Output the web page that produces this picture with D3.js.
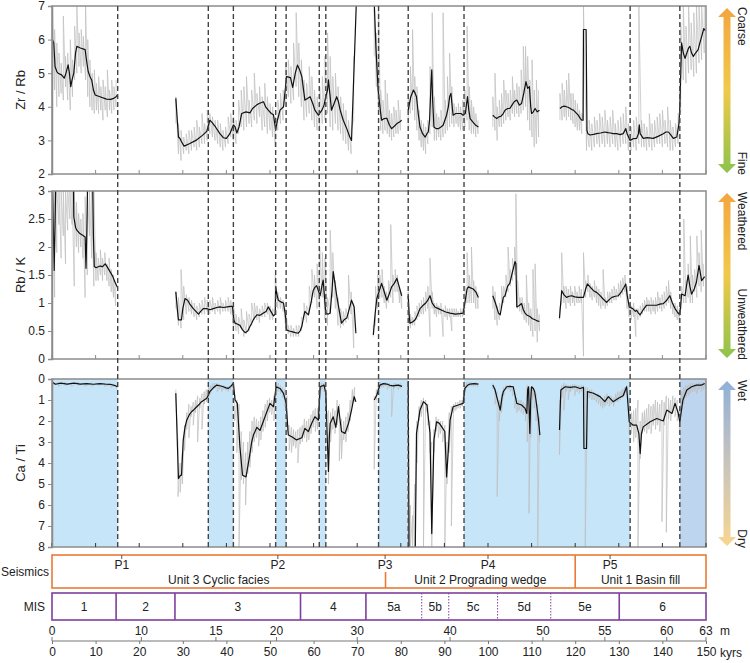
<!DOCTYPE html>
<html>
<head>
<meta charset="utf-8">
<script src="https://cdn.jsdelivr.net/npm/d3@7"></script>
<style>
  body { margin: 0; background: #fff; }
  svg text { font-family: "Liberation Sans", Arial, sans-serif; fill: #222; }
</style>
</head>
<body>
<svg id="chart" width="750" height="663"></svg>
<script>
// ---- data (kyrs, ratio) ----
// smoothed curves, one array per continuous core section
const zrRbSmooth = [
  [[0.1,6.0],[0.4,5.9],[0.7,5.2],[1.1,5.05],[1.4,5.0],[2.2,4.95],[2.8,4.85],[3.2,5.0],[3.7,5.25],[4.0,5.0],[4.3,4.6],[4.6,4.8],[5.0,5.0],[5.4,5.6],[5.7,5.8],[6.5,5.75],[7.6,5.7],[7.9,5.4],[8.3,5.05],[8.7,4.9],[9.1,4.8],[9.5,4.5],[9.9,4.35],[11.0,4.3],[12.5,4.23],[13.5,4.22],[14.1,4.25],[14.7,4.3],[15.0,4.35]],
  [[28.4,4.25],[29.0,3.1],[29.4,3.05],[29.7,2.96],[30.3,2.83],[31.5,2.9],[33,3.0],[34.5,3.15],[35.5,3.27],[36.2,3.6],[36.6,3.55],[37.5,3.4],[38.5,3.2],[39.3,3.08],[40.0,3.06],[40.8,3.2],[41.6,3.46],[42.0,3.4],[42.4,3.22],[42.9,3.4],[43.5,3.8],[44.5,3.85],[45.4,3.82],[46.0,3.95],[46.9,4.05],[47.5,4.1],[48.5,4.15],[49.0,4.0],[49.6,3.9],[50.3,3.8],[50.8,3.76],[51.3,3.31],[51.7,3.6],[52.3,3.9],[53.1,4.0],[53.8,4.9],[54.7,4.87],[55.2,4.58],[55.8,5.0],[56.3,5.24],[56.8,5.1],[57.3,4.9],[58.0,4.2],[58.6,4.25],[59.2,4.3],[59.8,4.1],[60.3,3.9],[61.1,3.75],[61.9,3.9],[62.4,4.05],[62.8,4.3],[63.2,4.5],[63.4,4.8],[63.8,4.3],[64.1,3.9],[64.7,4.1],[65.3,4.3],[65.7,4.15],[66.1,3.9],[66.8,3.6],[67.6,3.35],[68.3,3.1],[68.7,3.0],[69.8,7.1]],
  [[73.9,7.1],[74.0,6.8],[74.3,5.74],[74.8,4.5],[75.3,3.9],[75.6,3.6],[76.2,3.65],[76.8,3.66],[77.4,3.45],[77.9,3.35],[78.5,3.42],[79.1,3.5],[79.7,3.55],[80.2,3.6]],
  [[81.7,3.9],[82.3,4.3],[82.9,4.5],[83.3,4.4],[83.6,4.3],[84.0,3.8],[84.4,3.4],[85.0,3.2],[85.6,3.1],[86.0,3.2],[86.3,3.25],[86.6,3.6],[86.9,4.6],[87.1,5.1],[87.3,4.2],[87.6,3.4],[88.1,3.35],[88.6,3.35],[89.2,3.4],[89.7,3.45],[90.1,3.6],[90.5,3.75],[90.9,4.0],[91.2,4.3],[91.5,4.4],[91.8,4.0],[92.0,3.75],[92.6,3.8],[93.2,3.8],[93.8,3.8],[94.3,3.75],[94.8,3.8],[95.1,4.1],[95.3,4.3],[95.6,3.9],[95.9,3.65],[96.5,3.55],[97.2,3.45],[97.8,3.4]],
  [[101.1,3.75],[101.5,3.7],[102.0,3.65],[102.5,3.7],[103.0,3.72],[103.5,3.8],[103.9,3.9],[104.5,3.95],[105.0,3.95],[105.5,4.05],[106.0,4.15],[106.6,4.2],[107.2,4.05],[107.7,4.1],[108.2,4.4],[108.7,4.75],[109.1,4.55],[109.5,4.6],[109.8,4.0],[110.0,3.8],[110.4,3.85],[110.8,3.95],[111.3,3.85],[111.8,3.9]],
  [[116.5,3.95],[117.0,4.0],[117.5,4.02],[118.0,4.0],[118.6,3.97],[119.2,3.92],[119.6,3.9],[120.2,3.82],[120.7,3.75],[121.2,3.65],[121.5,3.6],[121.8,3.6],[121.9,6.3],[122.5,6.3],[122.7,3.3],[122.9,3.2],[123.4,3.16],[124.2,3.18],[124.9,3.2],[125.8,3.22],[126.8,3.25],[127.5,3.23],[128.1,3.22],[128.7,3.2],[129.5,3.2],[130.3,3.17],[131.0,3.2],[131.6,3.35],[131.9,3.2],[132.6,3.0],[133.3,3.05],[134.1,3.06],[134.5,3.2],[134.7,3.46],[134.9,3.2],[135.6,3.06],[136.5,3.08],[137.9,3.06],[139.0,3.12],[140.2,3.2],[140.8,3.25],[141.4,3.25],[142.0,3.15],[142.5,3.06],[143.3,3.1],[143.8,3.5],[144.0,4.0],[144.4,5.9],[144.8,5.6],[145.2,5.44],[145.6,5.6],[146.0,5.75],[146.3,5.8],[146.7,5.6],[147.1,5.5],[147.6,5.6],[148.2,5.7],[148.6,5.9],[149.0,6.09],[149.5,6.33],[149.9,6.26]]
];
// raw scans: [kyrs, low, high]
const zrRbRaw = [
  [[0.1,4.3,7.0],[0.6,4.5,6.3],[1.1,4.0,5.9],[1.6,4.3,5.6],[2.1,4.4,5.3],[2.6,4.2,6.7],[3.1,4.6,5.5],[3.6,4.2,5.6],[4.2,3.9,6.0],[4.7,4.3,5.4],[5.2,4.8,6.4],[5.7,5.0,7.0],[6.2,5.2,6.2],[6.7,5.0,6.3],[7.2,5.2,6.1],[7.7,4.8,7.0],[8.2,4.3,6.0],[8.7,4.0,5.4],[9.2,3.9,5.0],[9.7,3.8,5.1],[10.2,3.9,4.7],[10.7,3.8,4.9],[11.2,3.9,4.6],[11.7,3.6,4.8],[12.2,3.9,4.6],[12.7,3.7,5.1],[13.2,3.9,4.5],[13.7,3.8,4.8],[14.2,3.9,4.6],[14.7,4.0,4.8]],
  [[28.4,3.5,4.3],[29.0,2.6,3.5],[29.6,2.4,3.3],[30.2,2.6,3.1],[30.8,2.7,3.2],[31.4,2.6,3.3],[32.0,2.7,3.3],[32.6,2.8,3.4],[33.2,2.7,3.6],[33.8,2.8,3.4],[34.4,2.9,3.8],[35.0,2.9,3.5],[35.6,3.0,3.9],[36.2,3.2,3.8],[36.8,3.1,3.7],[37.4,3.0,3.6],[38.0,2.9,3.6],[38.6,2.8,3.5],[39.2,2.7,3.3],[39.8,2.8,3.4],[40.4,2.9,3.7],[41.0,3.1,3.8],[41.6,3.0,3.7],[42.2,2.9,3.6],[42.8,3.2,4.2],[43.4,3.4,4.5],[44.0,3.3,4.6],[44.6,3.4,4.9],[45.2,3.5,4.2],[45.8,3.4,4.5],[46.4,3.6,5.0],[47.0,3.5,4.4],[47.6,3.7,4.6],[48.2,3.3,4.3],[48.8,3.4,4.7],[49.4,3.2,4.3],[50.0,3.3,4.1],[50.6,3.1,4.0],[51.2,2.8,3.7],[51.8,3.3,4.2],[52.4,3.5,4.4],[53.0,3.6,4.5],[53.6,4.0,5.3],[54.2,4.3,5.4],[54.8,4.1,5.2],[55.4,4.2,5.9],[56.0,4.6,6.8],[56.6,4.3,5.9],[57.2,4.0,5.4],[57.8,3.6,4.8],[58.4,3.7,4.7],[59.0,3.8,5.2],[59.6,3.6,4.9],[60.2,3.4,4.5],[60.8,3.3,4.3],[61.4,3.3,4.6],[62.0,3.5,4.9],[62.6,3.6,5.5],[63.2,3.8,6.2],[63.8,3.4,5.5],[64.4,3.3,4.9],[65.0,3.5,5.0],[65.6,3.3,4.6],[66.2,3.2,4.3],[66.8,3.0,4.1],[67.4,2.9,3.9],[68.0,2.7,3.6],[68.6,2.6,3.3],[69.2,3.6,5.5]],
  [[73.9,5.5,6.9],[74.4,4.6,6.2],[74.9,3.8,6.9],[75.4,3.3,4.5],[75.9,3.2,4.2],[76.4,3.3,4.8],[76.9,3.2,4.4],[77.4,3.1,3.9],[77.9,3.0,3.8],[78.4,3.1,4.0],[78.9,3.2,3.9],[79.4,3.2,4.2],[79.9,3.3,3.9]],
  [[81.7,3.4,4.4],[82.2,3.8,5.2],[82.7,3.9,6.3],[83.2,3.6,4.9],[83.7,3.3,4.6],[84.2,3.0,3.9],[84.7,2.8,3.6],[85.2,2.7,3.5],[85.7,2.6,3.4],[86.2,2.9,3.6],[86.7,3.2,5.2],[87.2,3.4,6.8],[87.7,3.0,4.3],[88.2,3.0,3.8],[88.7,3.1,3.7],[89.2,3.0,3.9],[89.7,3.1,6.8],[90.2,3.2,4.2],[90.7,3.3,4.9],[91.2,3.4,5.6],[91.7,3.5,4.6],[92.2,3.4,4.1],[92.7,3.5,4.0],[93.2,3.4,4.1],[93.7,3.3,4.0],[94.2,3.3,4.2],[94.7,3.4,4.5],[95.2,3.6,6.4],[95.7,3.3,4.6],[96.2,3.2,4.2],[96.7,3.2,4.0],[97.2,3.1,3.8],[97.7,3.2,3.6]],
  [[101.1,3.4,4.3],[101.6,3.3,5.0],[102.1,3.0,4.0],[102.6,3.4,4.2],[103.1,3.4,4.4],[103.6,3.5,4.8],[104.1,3.6,4.5],[104.6,3.7,4.4],[105.1,3.6,4.5],[105.6,3.8,4.9],[106.1,3.7,4.5],[106.6,3.8,4.7],[107.1,3.7,4.6],[107.6,3.8,5.1],[108.1,3.9,5.8],[108.6,4.0,5.8],[109.1,3.6,5.5],[109.6,3.3,4.8],[110.1,3.1,5.4],[110.6,2.8,4.5],[111.1,2.9,4.8],[111.6,3.1,4.5]],
  [[116.5,3.6,4.4],[117.0,3.6,4.7],[117.5,3.7,4.5],[118.0,3.6,4.8],[118.5,3.7,5.0],[119.0,3.6,4.4],[119.5,3.5,4.4],[120.0,3.4,4.2],[120.5,3.3,4.1],[121.0,3.3,3.9],[121.5,3.2,3.8],[121.9,3.6,7.0],[122.6,2.7,3.4],[123.2,2.8,3.6],[123.8,2.7,3.5],[124.4,2.8,3.7],[125.0,2.9,3.6],[125.6,2.8,3.8],[126.2,2.9,3.7],[126.8,2.8,3.9],[127.4,2.9,3.6],[128.0,2.8,3.7],[128.6,2.9,3.9],[129.2,2.8,3.5],[129.8,2.7,3.6],[130.4,2.8,3.7],[131.0,2.9,3.8],[131.6,2.9,4.0],[132.2,2.7,3.5],[132.8,2.7,3.4],[133.4,2.8,3.6],[134.0,2.7,3.7],[134.6,2.9,7.0],[135.2,2.8,3.6],[135.8,2.8,3.5],[136.4,2.7,3.4],[137.0,2.8,3.8],[137.6,2.7,3.5],[138.2,2.8,3.6],[138.8,2.9,3.7],[139.4,2.9,3.8],[140.0,2.8,3.9],[140.6,2.9,3.6],[141.2,2.8,4.0],[141.8,2.7,3.6],[142.4,2.7,3.4],[143.0,2.8,3.5],[143.6,2.9,3.8],[144.2,3.8,6.5],[144.8,4.8,7.0],[145.4,4.7,6.4],[146.0,5.0,7.0],[146.6,5.1,6.5],[147.2,4.9,6.8],[147.8,5.0,7.0],[148.4,5.3,7.0],[149.0,5.4,7.0],[149.6,5.6,7.0]]
];

const rbKSmooth = [
  [[0.1,3.3],[0.3,2.4],[0.5,1.58],[0.7,2.4],[0.9,3.3],[4.9,3.3],[5.0,2.54],[5.4,2.35],[5.7,2.3],[6.4,2.24],[7.2,2.2],[7.6,2.18],[7.8,1.62],[8.0,2.3],[8.2,3.3],[9.3,3.3],[9.5,2.2],[9.7,1.65],[10.1,1.63],[11.0,1.66],[11.6,1.65],[12.2,1.7],[12.7,1.64],[13.3,1.56],[13.9,1.48],[14.4,1.38],[15.0,1.28]],
  [[28.4,1.2],[28.8,0.85],[29.0,0.7],[29.7,0.7],[30.0,0.9],[30.5,1.08],[31.1,1.05],[31.7,0.97],[32.4,0.9],[33.0,0.85],[33.6,0.8],[34.1,0.85],[34.7,0.9],[35.5,0.9],[36.2,0.88],[37.0,0.9],[37.8,0.92],[38.5,0.93],[39.3,0.92],[40.2,0.93],[41.0,0.94],[41.4,0.94],[41.7,0.7],[42.0,0.64],[42.6,0.62],[43.1,0.6],[43.7,0.52],[44.3,0.47],[44.9,0.5],[45.4,0.58],[45.8,0.64],[46.3,0.72],[47.0,0.79],[47.7,0.78],[48.5,0.82],[49.1,0.85],[49.6,0.93],[50.2,0.85],[50.8,0.77],[51.2,0.8],[51.3,1.29],[51.6,1.15],[51.9,1.05],[52.5,1.02],[53.1,1.0],[53.5,0.8],[53.8,0.52],[54.4,0.5],[55.0,0.49],[55.8,0.47],[56.5,0.46],[56.9,0.5],[57.3,0.58],[57.7,0.75],[58.0,0.85],[58.4,0.82],[58.8,0.79],[59.4,1.0],[59.9,1.22],[60.3,1.28],[60.7,1.31],[61.1,1.22],[61.5,1.13],[61.9,1.3],[62.2,1.41],[62.5,1.1],[62.8,0.82],[63.3,0.8],[63.8,0.82],[64.2,1.2],[64.5,1.56],[64.9,1.35],[65.3,1.13],[65.8,0.9],[66.4,0.64],[67.0,0.7],[67.6,0.73],[68.2,0.9],[68.7,1.05],[69.3,0.93],[69.7,0.46]],
  [[73.7,0.43],[74.1,0.8],[74.5,1.08],[75.0,1.2],[75.6,1.35],[76.2,1.2],[76.8,1.05],[77.3,1.15],[77.9,1.29],[78.5,1.35],[79.1,1.44],[79.6,1.3],[80.2,1.13]],
  [[81.7,1.13],[81.9,0.8],[82.1,0.64],[82.7,0.66],[83.3,0.7],[83.8,0.78],[84.4,0.9],[85.0,0.95],[85.6,0.99],[86.2,1.05],[86.7,1.13],[87.2,1.0],[87.8,0.93],[88.6,0.9],[89.4,0.87],[90.3,0.84],[91.3,0.82],[92.5,0.8],[93.5,0.81],[94.3,0.82],[94.8,1.05],[95.2,1.25],[95.5,1.29],[96.0,1.27],[96.6,1.25],[97.2,1.2],[97.8,1.1]],
  [[101.1,1.13],[101.7,1.0],[102.4,0.82],[102.8,0.79],[103.5,1.1],[103.9,1.13],[104.5,1.3],[105.0,1.35],[105.6,1.55],[106.2,1.74],[106.4,1.7],[106.6,0.93],[107.1,0.95],[107.7,0.99],[108.1,0.88],[108.5,0.82],[109.0,0.78],[109.6,0.76],[110.2,0.72],[110.8,0.7],[111.3,0.68],[111.8,0.67]],
  [[116.4,0.73],[116.9,1.22],[117.4,1.15],[118.0,1.1],[118.6,1.12],[119.2,1.13],[119.9,1.11],[120.7,1.1],[121.3,1.1],[121.9,1.1],[122.4,1.25],[122.8,1.34],[123.5,1.28],[124.2,1.22],[124.9,1.19],[125.6,1.14],[126.3,1.08],[127.2,1.01],[127.8,1.06],[128.4,1.1],[129.2,1.12],[129.9,1.13],[130.6,1.2],[131.2,1.28],[131.6,1.34],[131.9,1.15],[132.4,0.93],[133.2,0.9],[133.8,0.85],[134.1,0.87],[134.5,0.82],[134.9,0.79],[135.6,0.88],[136.4,0.96],[137.5,0.96],[138.7,0.96],[139.4,0.98],[140.2,0.99],[141.0,1.05],[141.7,1.13],[142.3,1.0],[142.9,0.9],[143.5,0.83],[144.0,0.79],[144.4,1.16],[145.2,1.13],[145.9,1.5],[146.3,1.3],[146.7,1.16],[147.3,1.25],[147.8,1.37],[148.4,1.67],[149.0,1.4],[149.7,1.47]]
];
const rbKRaw = [
  [[0.1,1.2,3.0],[0.6,1.1,3.0],[1.1,1.9,3.0],[1.6,2.4,3.0],[2.1,1.8,3.0],[2.6,2.2,3.0],[3.1,1.7,3.0],[3.6,2.3,3.0],[4.1,2.5,3.0],[4.6,2.4,3.0],[5.1,1.3,3.0],[5.6,2.0,2.8],[6.1,1.9,2.6],[6.6,2.0,2.5],[7.1,1.8,2.6],[7.6,1.1,2.9],[8.1,1.5,3.0],[8.6,2.2,3.0],[9.1,1.8,3.0],[9.6,1.3,3.0],[10.1,1.4,1.9],[10.6,1.4,1.8],[11.1,1.5,1.95],[11.6,1.4,1.8],[12.1,1.5,1.9],[12.6,1.4,1.7],[13.1,1.3,1.8],[13.6,1.2,1.6],[14.1,1.1,1.5],[14.6,0.95,1.4]],
  [[28.4,0.9,1.2],[29.0,0.6,1.1],[29.6,0.55,1.6],[30.2,0.7,1.3],[30.8,0.8,1.15],[31.4,0.85,1.1],[32.0,0.8,1.05],[32.6,0.75,1.0],[33.2,0.7,0.95],[33.8,0.75,1.0],[34.4,0.8,1.05],[35.0,0.8,1.1],[35.6,0.85,1.05],[36.2,0.8,1.05],[36.8,0.85,1.1],[37.4,0.8,1.0],[38.0,0.85,1.05],[38.6,0.8,1.1],[39.2,0.85,1.0],[39.8,0.85,1.05],[40.4,0.85,1.1],[41.0,0.8,1.05],[41.6,0.6,1.0],[42.2,0.5,0.8],[42.8,0.45,0.75],[43.4,0.55,0.9],[44.0,0.4,0.7],[44.6,0.45,0.85],[45.2,0.5,0.8],[45.8,0.6,1.0],[46.4,0.7,1.0],[47.0,0.7,0.95],[47.6,0.65,0.9],[48.2,0.75,0.95],[48.8,0.75,1.0],[49.4,0.8,1.0],[50.0,0.7,0.95],[50.6,0.7,0.9],[51.2,0.8,1.5],[51.8,0.9,1.2],[52.4,0.9,1.1],[53.0,0.85,1.05],[53.6,0.55,0.9],[54.2,0.45,0.6],[54.8,0.4,0.6],[55.4,0.4,0.55],[56.0,0.4,0.6],[56.6,0.4,0.6],[57.2,0.5,0.75],[57.8,0.7,1.0],[58.4,0.65,0.95],[59.0,0.8,1.3],[59.6,1.0,1.6],[60.2,1.1,1.5],[60.8,0.9,1.7],[61.4,0.9,2.0],[62.0,1.1,1.9],[62.6,0.7,1.8],[63.2,0.6,1.1],[63.8,0.8,2.3],[64.4,1.1,1.9],[65.0,0.9,1.4],[65.6,0.6,1.1],[66.2,0.55,0.9],[66.8,0.6,0.85],[67.4,0.65,0.9],[68.0,0.7,1.5],[68.6,0.8,1.2],[69.2,0.2,1.0]],
  [[73.7,0.4,0.6],[74.2,0.6,1.3],[74.7,0.9,1.5],[75.2,1.1,1.5],[75.7,1.1,1.6],[76.2,1.0,1.3],[76.7,0.9,1.2],[77.2,1.0,1.4],[77.7,1.1,2.4],[78.2,1.0,1.5],[78.7,1.2,1.6],[79.2,1.2,1.5],[79.7,1.0,1.3],[80.2,0.9,1.2]],
  [[81.7,0.6,1.2],[82.2,0.55,0.8],[82.7,0.6,0.75],[83.2,0.6,0.85],[83.7,0.7,0.95],[84.2,0.75,1.0],[84.7,0.8,1.05],[85.2,0.8,1.1],[85.7,0.85,1.2],[86.2,0.9,1.3],[86.7,0.4,1.8],[87.2,0.9,1.2],[87.7,0.8,1.0],[88.2,0.75,1.0],[88.7,0.8,0.95],[89.2,0.8,1.0],[89.7,0.4,0.9],[90.2,0.75,0.95],[90.7,0.7,0.9],[91.2,0.75,0.9],[91.7,0.5,0.9],[92.2,0.75,0.9],[92.7,0.75,0.9],[93.2,0.75,0.85],[93.7,0.75,0.9],[94.2,0.75,0.9],[94.7,0.9,1.3],[95.2,1.0,1.9],[95.7,1.0,1.5],[96.2,1.0,2.0],[96.7,1.0,1.4],[97.2,0.9,1.3],[97.7,0.9,1.2]],
  [[101.1,0.9,1.3],[101.6,0.7,1.2],[102.1,0.6,0.95],[102.6,0.7,1.0],[103.1,0.9,1.3],[103.6,1.0,1.3],[104.1,1.1,1.5],[104.6,1.2,2.0],[105.1,1.3,1.6],[105.6,1.4,1.8],[106.1,1.5,2.0],[106.4,1.6,2.95],[106.8,0.9,1.4],[107.3,0.85,1.1],[107.8,0.8,1.1],[108.3,0.7,1.0],[108.8,0.65,1.5],[109.3,0.6,1.0],[109.8,0.5,0.9],[110.3,0.4,1.6],[110.8,0.5,1.7],[111.3,0.3,0.9],[111.8,0.5,0.8]],
  [[116.4,0.7,0.9],[116.9,1.0,1.9],[117.4,1.0,1.3],[117.9,0.9,1.3],[118.4,1.0,1.25],[118.9,0.95,1.3],[119.4,1.0,1.2],[119.9,0.95,1.3],[120.4,1.0,1.2],[120.9,1.0,1.3],[121.4,1.0,1.25],[121.9,0.05,1.9],[122.4,1.1,1.4],[122.9,1.2,1.5],[123.4,1.1,1.35],[123.9,1.05,1.3],[124.4,1.1,1.4],[124.9,1.0,1.3],[125.4,0.95,1.25],[125.9,0.9,1.2],[126.4,0.95,1.6],[126.9,0.9,1.1],[127.4,0.95,1.2],[127.9,1.0,1.2],[128.4,1.0,1.25],[128.9,1.05,1.3],[129.4,1.05,1.25],[129.9,1.1,1.35],[130.4,1.1,1.4],[130.9,1.15,1.45],[131.4,1.2,1.5],[131.9,0.9,1.3],[132.4,0.75,1.0],[132.9,0.7,0.95],[133.4,0.75,1.0],[133.9,0.4,0.9],[134.4,0.7,0.9],[134.9,0.75,0.95],[135.4,0.8,1.0],[135.9,0.85,1.05],[136.4,0.85,1.1],[136.9,0.85,1.05],[137.4,0.8,1.1],[137.9,0.85,1.05],[138.4,0.8,1.1],[138.9,0.85,1.2],[139.4,0.9,1.1],[139.9,0.85,1.15],[140.4,0.9,1.2],[140.9,0.95,1.3],[141.4,1.0,1.4],[141.9,0.9,1.2],[142.4,0.8,1.0],[142.9,0.75,1.0],[143.4,0.7,0.95],[143.9,0.65,0.9],[144.4,0.9,1.3],[144.9,1.0,2.5],[145.4,1.0,1.4],[145.9,1.1,1.7],[146.4,1.0,2.2],[146.9,1.0,1.5],[147.4,1.2,1.6],[147.9,1.1,2.2],[148.4,1.3,1.9],[148.9,1.2,2.3],[149.4,1.3,1.7]]
];

const caTiSmooth = [
  [[0.1,0.15],[0.8,0.25],[2.0,0.2],[3.5,0.24],[5.0,0.2],[6.5,0.24],[8.0,0.22],[9.5,0.25],[11.0,0.22],[12.5,0.25],[13.5,0.26],[14.3,0.3],[15.0,0.37]],
  [[28.4,0.68],[29.0,4.74],[29.4,4.6],[29.7,4.58],[30.1,2.91],[30.5,2.3],[30.9,1.96],[31.5,1.7],[32.0,1.56],[32.6,1.45],[33.2,1.32],[33.8,1.2],[34.3,1.08],[34.9,1.0],[35.5,0.92],[35.9,0.75],[36.2,0.6],[37.0,0.42],[37.8,0.29],[38.5,0.32],[39.3,0.37],[39.9,0.42],[40.4,0.45],[41.0,0.35],[41.6,0.21],[42.0,1.0],[42.5,1.16],[43.1,3.23],[43.7,4.58],[44.5,4.66],[45.3,3.7],[45.8,3.0],[46.2,2.67],[47.0,2.3],[47.7,2.45],[48.5,2.0],[49.2,1.6],[50.0,1.16],[50.8,1.32],[51.4,0.37],[52.3,0.45],[53.1,0.68],[53.7,1.16],[54.2,2.67],[55.0,2.75],[56.1,2.9],[57.3,2.8],[58.0,2.35],[58.8,2.5],[59.6,2.1],[60.3,1.8],[61.1,1.96],[61.5,0.37],[62.4,0.29],[62.8,0.68],[63.2,3.23],[63.4,4.4],[63.6,2.8],[63.8,2.12],[64.5,1.8],[65.1,2.3],[65.7,1.32],[66.4,2.5],[67.2,2.59],[68.0,2.12],[68.7,1.48],[69.3,0.84],[69.7,1.08]],
  [[73.9,1.0],[74.5,0.76],[75.2,0.29],[76.0,0.22],[76.8,0.24],[77.5,0.3],[78.3,0.33],[78.9,0.3],[79.4,0.29],[80.3,0.35]],
  [[81.7,0.1],[81.9,8.5],[83.3,8.5],[83.6,2.59],[84.4,1.48],[85.2,1.08],[86.0,1.24],[86.7,2.59],[87.1,7.36],[87.6,2.9],[88.2,2.04],[88.8,2.1],[89.4,2.28],[90.1,2.5],[90.5,4.66],[90.9,3.39],[91.3,1.96],[92.0,1.32],[93.2,1.24],[94.3,1.16],[94.7,0.45],[95.3,0.3],[95.9,0.24],[96.8,0.22],[97.8,0.24]],
  [[101.1,0.29],[101.6,0.5],[102.0,0.84],[102.8,1.48],[103.2,0.9],[103.5,0.6],[104.3,0.37],[105.0,0.35],[105.8,0.37],[106.6,1.16],[107.2,1.2],[107.7,1.24],[108.5,1.4],[108.9,1.64],[109.1,0.5],[109.3,0.37],[109.6,2.59],[109.8,1.0],[110.0,0.37],[110.4,0.45],[110.7,0.6],[111.0,1.0],[111.5,1.8],[111.9,2.67]],
  [[116.4,2.43],[116.7,0.52],[117.7,0.37],[118.8,0.4],[120.0,0.37],[121.1,0.45],[121.9,0.4],[122.0,3.31],[122.6,3.31],[122.8,0.6],[124.2,0.68],[125.7,0.84],[126.8,1.08],[127.6,0.84],[128.7,1.08],[129.9,0.92],[131.0,0.8],[131.8,0.37],[132.1,1.2],[132.4,2.04],[133.3,2.2],[134.1,2.2],[134.6,2.6],[134.9,3.55],[135.2,2.6],[135.6,2.28],[137.2,2.04],[138.7,1.88],[140.2,2.0],[141.0,1.48],[142.2,1.64],[142.9,1.16],[143.6,1.6],[144.0,2.04],[144.7,1.0],[145.6,0.52],[146.7,0.37],[147.8,0.29],[149.0,0.29],[149.7,0.21]]
];
const caTiRaw = [
  [[0.2,0.1,0.3],[1.5,0.15,0.35],[3.0,0.15,0.3],[4.5,0.2,0.35],[6.0,0.15,0.3],[7.5,0.2,0.35],[9.0,0.2,0.35],[10.5,0.2,0.3],[12.0,0.2,0.35],[13.5,0.25,0.4],[14.8,0.3,0.45]],
  [[28.4,0.5,1.0],[28.9,3.0,5.6],[29.4,4.0,5.4],[29.9,3.5,5.0],[30.4,2.2,3.4],[30.9,1.6,2.4],[31.4,1.2,2.8],[31.9,1.3,1.8],[32.4,1.1,2.2],[32.9,1.0,1.6],[33.4,0.8,3.0],[33.9,0.9,1.4],[34.4,0.7,2.4],[34.9,0.6,1.2],[35.4,0.5,1.1],[35.9,0.4,0.9],[36.4,0.3,0.7],[36.9,0.2,0.5],[37.4,0.2,0.45],[37.9,0.2,0.6],[38.4,0.25,0.5],[38.9,0.3,0.6],[39.4,0.3,0.5],[39.9,0.35,0.55],[40.4,0.35,0.6],[40.9,0.3,0.5],[41.4,0.15,0.4],[41.9,0.8,2.0],[42.4,1.0,3.5],[42.9,1.2,8.0],[43.4,2.5,4.8],[43.9,3.0,5.0],[44.4,3.5,6.0],[44.9,3.0,4.5],[45.4,2.5,4.2],[45.9,2.0,3.5],[46.4,1.8,3.0],[46.9,1.9,2.8],[47.4,2.0,3.2],[47.9,1.8,2.9],[48.4,1.5,2.5],[48.9,1.2,2.3],[49.4,1.0,2.0],[49.9,0.9,1.6],[50.4,1.0,1.7],[50.9,0.8,2.0],[51.4,0.2,0.8],[51.9,0.2,0.6],[52.4,0.3,0.7],[52.9,0.4,0.9],[53.4,0.5,1.3],[53.9,0.8,2.5],[54.4,2.2,3.4],[54.9,2.3,3.5],[55.4,2.4,3.2],[55.9,2.5,3.3],[56.4,2.4,4.0],[56.9,2.3,3.1],[57.4,2.2,3.0],[57.9,1.9,2.8],[58.4,2.0,3.0],[58.9,1.9,2.9],[59.4,1.7,2.6],[59.9,1.5,2.3],[60.4,1.4,2.5],[60.9,1.4,2.4],[61.4,0.2,1.0],[61.9,0.2,0.5],[62.4,0.2,0.6],[62.9,0.5,2.0],[63.4,1.5,5.0],[63.9,1.6,3.0],[64.4,1.4,2.4],[64.9,1.5,2.6],[65.4,1.0,2.2],[65.9,1.2,3.9],[66.4,1.9,3.8],[66.9,2.0,2.9],[67.4,1.8,3.0],[67.9,1.6,2.5],[68.4,1.0,2.0],[68.9,0.5,1.2],[69.4,0.4,1.1]],
  [[73.9,0.8,4.3],[74.4,0.5,1.0],[74.9,0.2,0.6],[75.4,0.15,0.4],[75.9,0.2,0.4],[76.4,0.15,0.35],[76.9,0.2,0.5],[77.4,0.2,0.4],[77.9,0.25,1.8],[78.4,0.2,0.45],[78.9,0.2,0.4],[79.4,0.25,0.5],[79.9,0.2,0.45]],
  [[81.7,0.1,8.0],[82.2,6.0,8.0],[82.7,6.5,8.0],[83.2,5.0,8.0],[83.7,2.0,4.0],[84.2,1.3,2.0],[84.7,1.0,1.8],[85.2,0.9,8.0],[85.7,1.0,1.6],[86.2,1.2,2.2],[86.7,2.0,3.5],[87.1,3.0,8.0],[87.6,2.4,3.5],[88.1,1.8,2.5],[88.6,1.9,2.8],[89.1,2.0,2.6],[89.6,2.0,3.0],[90.1,2.2,8.0],[90.6,3.0,5.0],[91.1,1.6,3.5],[91.6,1.3,7.0],[92.1,1.2,1.6],[92.6,1.1,1.5],[93.1,1.1,1.4],[93.6,1.0,1.4],[94.1,1.0,1.3],[94.6,0.3,0.8],[95.1,0.15,0.4],[95.6,0.15,0.35],[96.1,0.15,0.35],[96.6,0.2,0.35],[97.1,0.15,0.35],[97.6,0.2,0.4]],
  [[101.1,0.2,0.5],[101.6,0.4,1.2],[102.1,0.6,5.6],[102.6,1.0,2.0],[103.1,0.7,1.6],[103.6,0.4,0.8],[104.1,0.3,0.5],[104.6,0.3,0.5],[105.1,0.3,0.6],[105.6,0.4,0.8],[106.1,0.6,1.4],[106.6,0.9,1.6],[107.1,1.0,1.5],[107.6,1.0,1.6],[108.1,1.1,1.7],[108.6,1.2,2.0],[109.0,0.3,3.0],[109.4,0.4,6.4],[109.8,0.4,2.8],[110.2,0.4,1.0],[110.6,0.5,1.4],[111.0,0.7,2.0],[111.4,1.2,8.0],[111.8,1.8,3.0]],
  [[116.4,1.0,3.6],[116.9,0.3,0.9],[117.4,0.2,1.5],[117.9,0.25,0.6],[118.4,0.3,1.0],[118.9,0.3,0.6],[119.4,0.25,0.5],[119.9,0.25,0.8],[120.4,0.3,0.6],[120.9,0.3,0.7],[121.4,0.3,0.6],[121.9,0.3,1.2],[122.3,0.4,8.0],[122.8,0.4,1.0],[123.3,0.5,0.9],[123.8,0.5,1.0],[124.3,0.6,1.0],[124.8,0.7,1.1],[125.3,0.7,1.2],[125.8,0.8,1.3],[126.3,0.9,1.4],[126.8,0.8,1.3],[127.3,0.7,1.2],[127.8,0.8,1.3],[128.3,0.8,1.2],[128.8,0.9,1.3],[129.3,0.7,1.1],[129.8,0.6,1.1],[130.3,0.6,1.0],[130.8,0.5,0.9],[131.3,0.4,0.8],[131.8,0.3,0.6],[132.4,1.2,2.6],[132.9,1.6,2.6],[133.4,1.5,3.0],[133.9,1.4,2.8],[134.4,1.0,8.0],[134.9,2.0,3.8],[135.4,1.6,2.6],[135.9,1.5,2.5],[136.4,1.4,2.6],[136.9,1.2,2.4],[137.4,1.3,2.6],[137.9,1.2,2.2],[138.4,1.0,2.4],[138.9,1.1,2.2],[139.4,1.2,2.5],[139.9,1.0,6.8],[140.4,1.1,2.2],[140.9,0.8,7.3],[141.4,0.9,1.9],[141.9,1.0,2.0],[142.4,0.8,1.6],[142.9,0.9,1.8],[143.4,1.0,2.0],[143.9,1.4,2.6],[144.4,0.6,1.5],[144.9,0.4,1.2],[145.4,0.3,0.9],[145.9,0.3,0.8],[146.4,0.2,0.7],[146.9,0.2,0.6],[147.4,0.2,0.6],[147.9,0.2,0.7],[148.4,0.15,0.5],[148.9,0.2,0.6],[149.4,0.15,0.5],[149.9,0.15,0.4]]
];

// boundaries (kyrs)
const boundaries = [15.07, 35.85, 41.6, 51.3, 53.7, 61.3, 62.8, 74.9, 81.7, 94.5, 132.6, 144];
const wetIntervals = [[0, 15.07], [35.85, 41.6], [51.3, 53.7], [61.3, 62.8], [74.9, 81.7], [94.5, 132.6]];
const wetIntervalsLate = [[144, 150]];

const seismicPicks = [["P1", 16], ["P2", 51.8], ["P3", 76.4], ["P4", 100], ["P5", 128]];
const seismicUnits = [["Unit 3 Cyclic facies", 0, 76.5], ["Unit 2 Prograding wedge", 76.5, 120], ["Unit 1 Basin fill", 120, 150]];

const misStages = [["1", 0, 14.7], ["2", 14.7, 28.2], ["3", 28.2, 57], ["4", 57, 72], ["5a", 72, 84.8], ["5b", 84.8, 91], ["5c", 91, 102.2], ["5d", 102.2, 114.4], ["5e", 114.4, 130.1], ["6", 130.1, 150]];
const misDotted = [84.8, 91, 102.2, 114.4];

const depthTicks = [[0, 0], [10, 20.5], [15, 37.6], [20, 51.5], [30, 70], [40, 91.3], [50, 112.6], [55, 126.8], [60, 141], [63, 150]];
const ageTicks = d3.range(0, 151, 10);

// ---- layout ----
const svg = d3.select("#chart");
const x = d3.scaleLinear().domain([0, 150]).range([52, 706]);
const fs = 12;

const panels = [
  { id: "zr", label: "Zr / Rb", y: d3.scaleLinear().domain([2, 7]).range([174, 6]), ticks: d3.range(2, 8, 1),
    smooth: zrRbSmooth, raw: zrRbRaw, top: "Coarse", bottom: "Fine", c1: "#f3a53f", c2: "#f0c94a", c3: "#8cc34b" },
  { id: "rb", label: "Rb / K", y: d3.scaleLinear().domain([0, 3]).range([359, 191]), ticks: d3.range(0, 3.01, 0.5),
    smooth: rbKSmooth, raw: rbKRaw, top: "Weathered", bottom: "Unweathered", c1: "#f3a53f", c2: "#f0c94a", c3: "#8cc34b" },
  { id: "ca", label: "Ca / Ti", y: d3.scaleLinear().domain([0, 8]).range([379, 547]), ticks: d3.range(0, 9, 1),
    smooth: caTiSmooth, raw: caTiRaw, top: "Wet", bottom: "Dry", c1: "#8fb0da", c2: "#c8c4bc", c3: "#f8d68e" }
];

const defs = svg.append("defs");
const frameColor = "#8c8c8c";

panels.forEach(p => {
  const [yb, yt] = p.y.range()[0] > p.y.range()[1] ? p.y.range() : [p.y.range()[1], p.y.range()[0]];
  const g = svg.append("g");

  defs.append("clipPath").attr("id", "clip-" + p.id)
    .append("rect").attr("x", x(0)).attr("y", yt).attr("width", x(150) - x(0)).attr("height", yb - yt);

  if (p.id === "ca") {
    g.selectAll("rect.wet").data(wetIntervals).join("rect")
      .attr("x", d => x(d[0])).attr("width", d => x(d[1]) - x(d[0]))
      .attr("y", yt).attr("height", yb - yt).attr("fill", "#c7e5f8");
    g.selectAll("rect.late").data(wetIntervalsLate).join("rect")
      .attr("x", d => x(d[0])).attr("width", d => x(d[1]) - x(d[0]))
      .attr("y", yt).attr("height", yb - yt).attr("fill", "#bed5ef");
  }

  const line = d3.line().x(d => x(d[0])).y(d => p.y(d[1]));
  const plot = g.append("g").attr("clip-path", "url(#clip-" + p.id + ")");

  plot.selectAll("path.raw").data(p.raw).join("path")
    .attr("d", seg => line(seg.flatMap(d => [[d[0], d[1]], [d[0], d[2]]])))
    .attr("fill", "none").attr("stroke", "#bdbdbd").attr("stroke-width", 0.7);

  plot.selectAll("path.smooth").data(p.smooth).join("path")
    .attr("d", line)
    .attr("fill", "none").attr("stroke", "#111").attr("stroke-width", 1.2)
    .attr("stroke-linejoin", "round");

  // frame
  g.append("rect").attr("x", x(0)).attr("y", yt).attr("width", x(150) - x(0)).attr("height", yb - yt)
    .attr("fill", "none").attr("stroke", frameColor).attr("stroke-width", 1.5);

  // bottom ticks (inward)
  g.selectAll("line.bt").data(ageTicks).join("line")
    .attr("x1", d => x(d)).attr("x2", d => x(d)).attr("y1", yb).attr("y2", yb - 4)
    .attr("stroke", p.id === "ca" ? "#333" : frameColor).attr("stroke-width", 1);

  // y axis
  const yAxis = d3.axisLeft(p.y).tickValues(p.ticks).tickSize(4).tickPadding(3)
    .tickFormat(d3.format("~g"));
  const ag = g.append("g").attr("transform", `translate(${x(0)},0)`).call(yAxis);
  ag.select(".domain").attr("stroke", frameColor).attr("stroke-width", 1.5);
  ag.selectAll(".tick line").attr("stroke", frameColor);
  ag.selectAll(".tick text").attr("font-size", fs).attr("fill", "#222");

  g.append("text").attr("transform", `translate(22,${(yt + yb) / 2}) rotate(-90)`)
    .attr("text-anchor", "middle").attr("dominant-baseline", "middle")
    .attr("font-size", 13).text(p.label);

  // right side gradient arrow
  const gid = "grad-" + p.id;
  const grad = defs.append("linearGradient").attr("id", gid)
    .attr("gradientUnits", "userSpaceOnUse").attr("x1", 0).attr("x2", 0).attr("y1", yt).attr("y2", yb);
  grad.append("stop").attr("offset", "0%").attr("stop-color", p.c1);
  grad.append("stop").attr("offset", "50%").attr("stop-color", p.c2);
  grad.append("stop").attr("offset", "100%").attr("stop-color", p.c3);
  const cx = 727, a1 = yt + 2, a2 = yb - 1, hw = 9, hl = 9, sw = 3.5;
  const pts = [[cx, a1], [cx + hw, a1 + hl], [cx + sw, a1 + hl], [cx + sw, a2 - hl], [cx + hw, a2 - hl], [cx, a2],
    [cx - hw, a2 - hl], [cx - sw, a2 - hl], [cx - sw, a1 + hl], [cx - hw, a1 + hl]];
  g.append("path").attr("d", "M" + pts.join("L") + "Z").attr("fill", `url(#${gid})`);

  g.append("text").attr("transform", `translate(741,${yt + 1}) rotate(90)`)
    .attr("dominant-baseline", "middle").attr("font-size", fs).text(p.top);
  g.append("text").attr("transform", `translate(741,${yb + 1}) rotate(90)`)
    .attr("text-anchor", "end").attr("dominant-baseline", "middle").attr("font-size", fs).text(p.bottom);
});

// boundary dashed lines across all panels
svg.append("g").selectAll("line").data(boundaries).join("line")
  .attr("x1", d => x(d)).attr("x2", d => x(d)).attr("y1", 6).attr("y2", 547)
  .attr("stroke", "#444").attr("stroke-width", 1.4).attr("stroke-dasharray", "5,3");

// ---- seismics ----
const orange = "#ea7a35";
const sTop = 555, sBot = 588;
const sg = svg.append("g");
sg.append("rect").attr("x", x(0)).attr("y", sTop).attr("width", x(150) - x(0)).attr("height", sBot - sTop)
  .attr("fill", "none").attr("stroke", orange).attr("stroke-width", 1.6);
sg.append("line").attr("x1", x(76.5)).attr("x2", x(76.5)).attr("y1", 572).attr("y2", sBot)
  .attr("stroke", orange).attr("stroke-width", 1.6);
sg.append("line").attr("x1", x(120)).attr("x2", x(120)).attr("y1", sTop).attr("y2", sBot)
  .attr("stroke", orange).attr("stroke-width", 1.6);
sg.selectAll("line.pick").data(seismicPicks).join("line")
  .attr("x1", d => x(d[1])).attr("x2", d => x(d[1])).attr("y1", sTop).attr("y2", sTop + 4)
  .attr("stroke", "#555").attr("stroke-width", 1);
sg.selectAll("text.pick").data(seismicPicks).join("text")
  .attr("x", d => x(d[1])).attr("y", 569).attr("text-anchor", "middle").attr("font-size", fs).text(d => d[0]);
sg.selectAll("text.unit").data(seismicUnits).join("text")
  .attr("x", d => x((d[1] + d[2]) / 2)).attr("y", 583.5).attr("text-anchor", "middle").attr("font-size", fs).text(d => d[0]);
sg.append("text").attr("x", 49).attr("y", 576).attr("text-anchor", "end").attr("font-size", fs).text("Seismics");

// ---- MIS ----
const purple = "#7f3f9c";
const mTop = 593, mBot = 620;
const mg = svg.append("g");
mg.append("rect").attr("x", x(0)).attr("y", mTop).attr("width", x(150) - x(0)).attr("height", mBot - mTop)
  .attr("fill", "none").attr("stroke", purple).attr("stroke-width", 1.6);
mg.selectAll("line").data(misStages.slice(1)).join("line")
  .attr("x1", d => x(d[1])).attr("x2", d => x(d[1])).attr("y1", mTop).attr("y2", mBot)
  .attr("stroke", purple)
  .attr("stroke-width", d => misDotted.includes(d[1]) ? 1 : 1.6)
  .attr("stroke-dasharray", d => misDotted.includes(d[1]) ? "1.5,1.5" : null);
mg.selectAll("text").data(misStages).join("text")
  .attr("x", d => x((d[1] + d[2]) / 2)).attr("y", 611).attr("text-anchor", "middle").attr("font-size", fs).text(d => d[0]);
mg.append("text").attr("x", 45).attr("y", 611).attr("text-anchor", "end").attr("font-size", fs).text("MIS");

// ---- depth / age axes ----
const axY = 641;
const bg = svg.append("g");
bg.append("line").attr("x1", x(0)).attr("x2", x(150)).attr("y1", axY).attr("y2", axY)
  .attr("stroke", "#777").attr("stroke-width", 1);
bg.selectAll("line.m").data(depthTicks).join("line")
  .attr("x1", d => x(d[1])).attr("x2", d => x(d[1])).attr("y1", axY - 4).attr("y2", axY)
  .attr("stroke", "#777");
bg.selectAll("text.m").data(depthTicks).join("text")
  .attr("x", d => x(d[1])).attr("y", 635).attr("text-anchor", "middle").attr("font-size", fs).text(d => d[0]);
bg.append("text").attr("x", 720).attr("y", 635).attr("font-size", fs).text("m");

const ageAxis = d3.axisBottom(x).tickValues(ageTicks).tickSize(3).tickPadding(3);
const ga = bg.append("g").attr("transform", `translate(0,${axY})`).call(ageAxis);
ga.select(".domain").remove();
ga.selectAll(".tick line").attr("stroke", "#777");
ga.selectAll(".tick text").attr("font-size", fs).attr("fill", "#222");
bg.append("text").attr("x", 720).attr("y", 657).attr("font-size", fs).text("kyrs");
</script>
</body>
</html>
